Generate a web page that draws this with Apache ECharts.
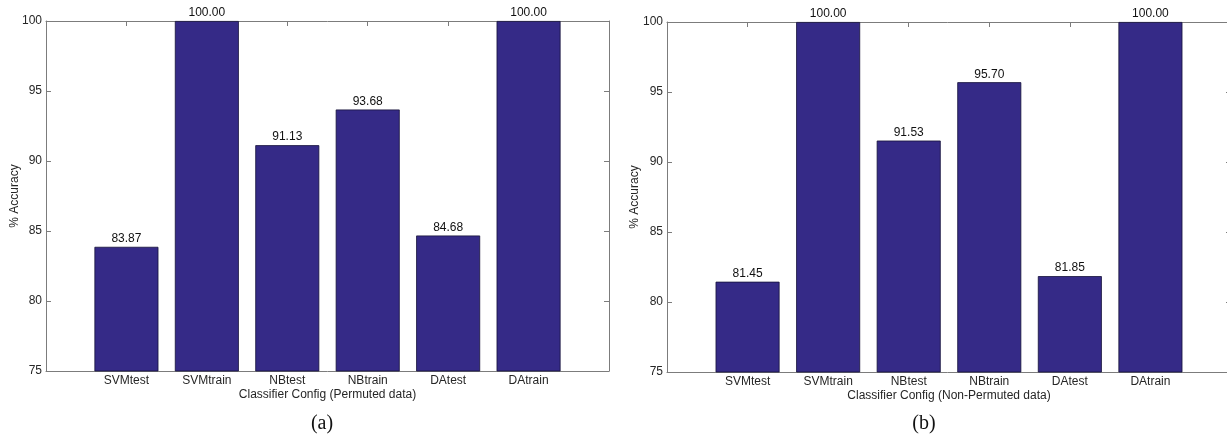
<!DOCTYPE html>
<html>
<head>
<meta charset="utf-8">
<script src="https://cdn.jsdelivr.net/npm/echarts@6/dist/echarts.min.js"></script>
<style>
  html, body { margin: 0; padding: 0; background: #ffffff; }
  #chart { width: 1227px; height: 436px; }
</style>
</head>
<body>
<div id="chart"></div>
<script>
// Classifier accuracy, permuted vs. non-permuted data
const categories = ['SVMtest', 'SVMtrain', 'NBtest', 'NBtrain', 'DAtest', 'DAtrain'];
const permutedAccuracy = [83.87, 100.00, 91.13, 93.68, 84.68, 100.00];
const nonPermutedAccuracy = [81.45, 100.00, 91.53, 95.70, 81.85, 100.00];
const yTicks = [75, 80, 85, 90, 95, 100];
const panelTitles = ['Classifier Config (Permuted data)', 'Classifier Config (Non-Permuted data)'];
const panelCaptions = ['(a)', '(b)'];

const BAR_COLOR = '#352a87';
const FRAME = '#7c7c7c';
const TEXT = '#262626';
const FONT = 'Liberation Sans, Arial, Helvetica, sans-serif';

const chart = echarts.init(document.getElementById('chart'), null, { renderer: 'canvas' });

const grids = [
  { left: 46, top: 21, width: 563, height: 350, outerBoundsMode: 'none', containLabel: false },
  { left: 667, top: 22, width: 564, height: 350, outerBoundsMode: 'none', containLabel: false }
];

// x positions follow bar(): categories at 1..n, limits 0..n+1
const xMax = categories.length + 1;

function catLabel(v) {
  const r = Math.round(v);
  const i = r - 1;
  return (i >= 0 && i < categories.length && Math.abs(v - r) < 1e-6) ? categories[i] : '';
}

const xAxes = [];
const yAxes = [];
const series = [];

[permutedAccuracy, nonPermutedAccuracy].forEach((vals, g) => {
  xAxes.push({
    gridIndex: g, type: 'value', position: 'bottom', min: 0, max: xMax, interval: 1,
    name: panelTitles[g], nameLocation: 'middle', nameGap: 18, nameMoveOverlap: false,
    nameTextStyle: { color: TEXT, fontSize: 12, fontFamily: FONT },
    axisLine: { show: true, onZero: false, lineStyle: { color: FRAME, width: 1 } },
    axisTick: { show: true, inside: true, length: 5, lineStyle: { color: FRAME } },
    axisLabel: { show: true, margin: 4, color: TEXT, fontSize: 12, fontFamily: FONT, formatter: catLabel },
    splitLine: { show: false }
  });
  xAxes.push({
    gridIndex: g, type: 'value', position: 'top', min: 0, max: xMax, interval: 1,
    axisLine: { show: true, onZero: false, lineStyle: { color: FRAME, width: 1 } },
    axisTick: { show: true, inside: true, length: 5, lineStyle: { color: FRAME } },
    axisLabel: { show: false },
    splitLine: { show: false }
  });
  yAxes.push({
    gridIndex: g, type: 'value', position: 'left', min: yTicks[0], max: yTicks[yTicks.length - 1], interval: 5,
    name: '% Accuracy', nameLocation: 'middle', nameRotate: 90, nameGap: g === 0 ? 25 : 26, nameMoveOverlap: false,
    nameTextStyle: { color: TEXT, fontSize: 12, fontFamily: FONT },
    axisLine: { show: true, onZero: false, lineStyle: { color: FRAME, width: 1 } },
    axisTick: { show: true, inside: true, length: 5, lineStyle: { color: FRAME } },
    axisLabel: { show: true, margin: 4, color: TEXT, fontSize: 12, fontFamily: FONT },
    splitLine: { show: false }
  });
  yAxes.push({
    gridIndex: g, type: 'value', position: 'right', min: yTicks[0], max: yTicks[yTicks.length - 1], interval: 5,
    axisLine: { show: true, onZero: false, lineStyle: { color: FRAME, width: 1 } },
    axisTick: { show: true, inside: true, length: 5, lineStyle: { color: FRAME } },
    axisLabel: { show: false },
    splitLine: { show: false }
  });
  series.push({
    type: 'bar',
    xAxisIndex: g * 2,
    yAxisIndex: g * 2,
    barWidth: 64,
    data: vals.map((v, i) => [i + 1, v]),
    itemStyle: { color: BAR_COLOR, borderColor: '#15113a', borderWidth: 0.8 },
    label: {
      show: true, position: 'top', distance: 2,
      color: '#111111', fontSize: 12, fontFamily: FONT,
      formatter: p => p.value[1].toFixed(2)
    },
    clip: true,
    animation: false
  });
});

chart.setOption({
  backgroundColor: '#ffffff',
  animation: false,
  grid: grids,
  xAxis: xAxes,
  yAxis: yAxes,
  series: series,
  graphic: panelCaptions.map((t, i) => ({
    type: 'text',
    x: i === 0 ? 322 : 924,
    y: 424,
    style: {
      text: t,
      fill: '#111111',
      font: '20px "Liberation Serif", "DejaVu Serif", serif',
      textAlign: 'center',
      textVerticalAlign: 'middle'
    }
  }))
});
</script>
</body>
</html>
